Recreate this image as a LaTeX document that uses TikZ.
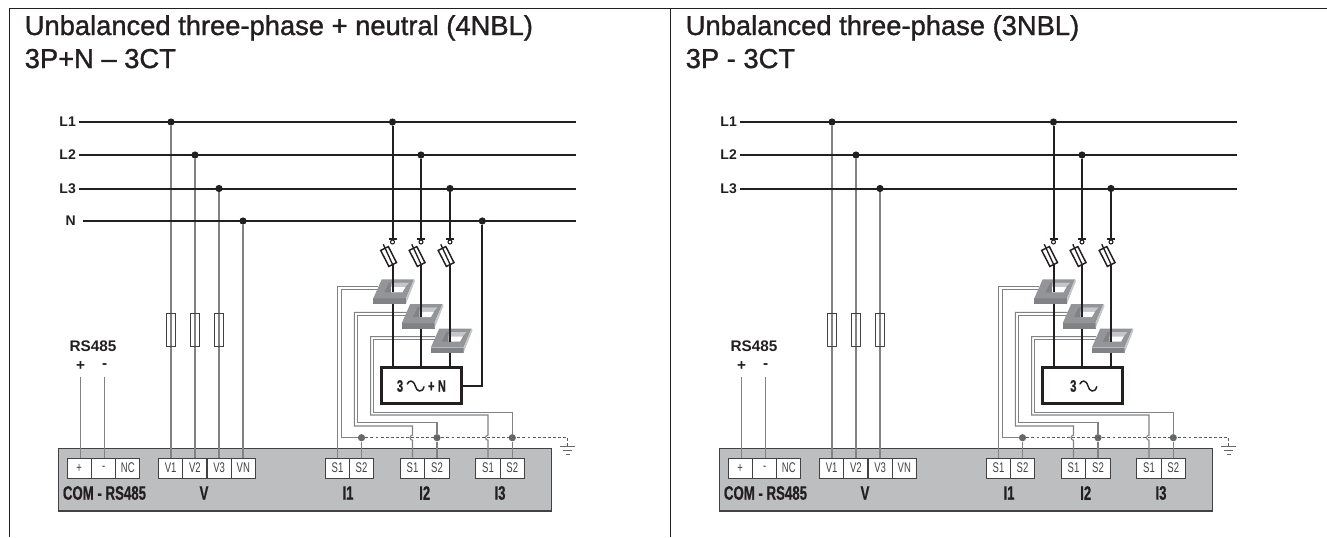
\documentclass[tikz,border=0pt]{standalone}
\usepackage{fontspec}
\setmainfont{Liberation Sans}
\newfontfamily\condfont[FakeStretch=0.68,BoldFeatures={FakeBold=0.5}]{Liberation Sans}
\newfontfamily\titlefont[FakeBold=1.2]{Liberation Sans}
\definecolor{inkblack}{HTML}{231F20}
\definecolor{wiregrey}{HTML}{808285}
\definecolor{metergrey}{HTML}{BCBEC0}
\definecolor{ctfront}{HTML}{808285}
\definecolor{cttop}{HTML}{939598}
\definecolor{ctlight}{HTML}{C4C6C8}
\tikzset{
  x=0.75pt,y=-0.75pt,
  frameline/.style={draw=inkblack,line width=0.7pt},
  paneltitle/.style={anchor=base west,inner sep=0pt,font=\titlefont\fontsize{20.5}{22}\selectfont,text=inkblack},
  buslabel/.style={anchor=east,inner xsep=2.2pt,inner ysep=0pt,font=\bfseries\fontsize{10.5}{12}\selectfont,text=inkblack},
  rslabel/.style={inner sep=0pt,font=\bfseries\fontsize{11.5}{13}\selectfont,text=inkblack},
  bus/.style={draw=inkblack,line width=1.5pt},
  branch/.style={draw=inkblack,line width=1.5pt},
  vwire/.style={draw=wiregrey,line width=1pt},
  ctwire/.style={draw=wiregrey,line width=0.8pt},
  groundwire/.style={draw=wiregrey!70!black,line width=1.1pt,dash pattern=on 2.2pt off 1.6pt},
  busdot/.style={circle,fill=inkblack,inner sep=0pt,minimum size=5.4pt},
  greydot/.style={circle,fill=wiregrey!80!black,inner sep=0pt,minimum size=5.4pt},
  vfuse/.style={draw=inkblack!85,line width=0.75pt,inner sep=0pt,minimum width=7pt,minimum height=24.5pt},
  linefuse/.style={draw=inkblack,fill=white,line width=1.1pt,rotate=27,inner sep=0pt,minimum width=6.4pt,minimum height=13.5pt},
  terminal/.style={draw=inkblack!85,fill=white,line width=0.75pt,inner sep=0pt,minimum width=18.1pt,minimum height=15pt,font=\condfont\fontsize{10.5}{12}\selectfont,text=inkblack!85},
  meterlabel/.style={inner sep=0pt,font=\condfont\bfseries\fontsize{14.6}{16}\selectfont,text=inkblack},
  loadbox/.style={draw=inkblack,fill=white,line width=1.7pt,inner sep=0pt,minimum width=60pt,minimum height=27pt},
  loadlabel/.style={inner sep=0pt,font=\condfont\bfseries\fontsize{12.5}{14}\selectfont,text=inkblack},
  pics/ctcore/.style={code={
    \fill[ctfront] (-19.2,0) -- (-19.2,-5.7) -- (13.5,-5.7) -- (13.5,0) -- cycle;
    \fill[cttop] (-19.2,-5.7) -- (-10.8,-24.7) -- (21.5,-24.7) -- (13.5,-5.7) -- cycle;
    \fill[ctlight] (13.5,0) -- (13.5,-5.7) -- (21.5,-24.7) -- (22.5,-23) -- (14.5,-3) -- cycle;
    \fill[ctfront] (-8,-11.7) -- (-3.5,-21.3) -- (16.5,-21.3) -- (10,-11.7) -- cycle;
    \fill[ctlight] (-1.5,-17) -- (-1,-21.3) -- (16.5,-21.3) -- (13,-17) -- cycle;
    \fill[white] (-1.5,-11.7) -- (-1.5,-17) -- (13,-17) -- (10,-11.7) -- cycle;
  }},
  pics/acsign/.style={code={
    \draw[inkblack,line width=1.1pt,line cap=round] (0,0) .. controls (1.5,-4) and (6,-4.5) .. (8,2) .. controls (9,7.5) and (15,9.5) .. (16.7,2.7);
  }},
}

\begin{document}
\begin{tikzpicture}
  \useasboundingbox (0,0) rectangle (1327,537);
  % frame
  \draw[frameline] (9,537) -- (9,8) -- (1327,8);
  \draw[frameline] (670.5,8) -- (670.5,537);
  \node[paneltitle] (titleLa) at (24.5,35) {Unbalanced three-phase + neutral (4NBL)};
  \node[paneltitle] (titleLb) at (24.5,68) {3P+N – 3CT};
  \node[paneltitle] (titleRa) at (685.5,35) {Unbalanced three-phase (3NBL)};
  \node[paneltitle] (titleRb) at (685.5,68) {3P - 3CT};
  % the two panels share everything but the neutral
  \foreach \px in {0,661} {
  \begin{scope}[shift={(\px,0)},name prefix=p\px-]
    % meter
    \fill[metergrey] (58.3,448.3) rectangle (551.7,511);
    \draw[inkblack!85,line width=0.8pt] (58.3,448.3) rectangle (551.7,511);
    \foreach \t/\x/\txt in {tP/79.2/+,tM/103.6/-,tNC/127.8/NC,V1/170.7/V1,V2/194.9/V2,V3/219.1/V3,VN/243.3/VN,
      SAa/337.5/S1,SAb/361.5/S2,SBa/412.5/S1,SBb/437/S2,SCa/488/S1,SCb/512.3/S2}
      \node[terminal] (\t) at (\x,468) {\txt};
    \node[meterlabel] (mCom) at (104.5,493) {COM - RS485};
    \node[meterlabel] (mV) at (204,493) {V};
    \node[meterlabel] (mIa) at (348,493) {I1};
    \node[meterlabel] (mIb) at (424.7,493) {I2};
    \node[meterlabel] (mIc) at (500,493) {I3};
    % RS485
    \node[rslabel] (rsName) at (93,346.7) {RS485};
    \node[rslabel] (rsP) at (80.5,366) {+};
    \node[rslabel] (rsM) at (104.7,366) {-};
    \coordinate (rsPw) at (80.7,377.3);
    \coordinate (rsMw) at (104.7,377.3);
    \draw[vwire] (rsPw) -- (rsPw |- tP.north);
    \draw[vwire] (rsMw) -- (rsMw |- tM.north);
    % buses and voltage taps
    \foreach \l/\y/\vx/\vt/\bx in {L1/122/171/V1/392.5,L2/155/195/V2/421,L3/188.5/219/V3/450} {
      \node[buslabel] (\l) at (79,\y) {\l};
      \coordinate (\l end) at (576,\y);
      \draw[bus] (\l) -- (\l end);
      \node[busdot] (d\vt) at (\vx,\y) {};
      \draw[vwire] (d\vt) -- (d\vt |- \vt.north);
      \node[vfuse] (f\vt) at (\vx,330.3) {};
      \node[busdot] (b\l) at (\bx,\y) {};
    }
    % current transformer wires
    \coordinate (ctAa) at (378,286.7);
    \coordinate (ctAb) at (378,289.5);
    \coordinate (ctBa) at (406.5,312.3);
    \coordinate (ctBb) at (406.5,315.5);
    \coordinate (ctCa) at (435,336.7);
    \coordinate (ctCb) at (435,339.5);
    \node[greydot] (jA) at (361.5,437.7) {};
    \node[greydot] (jB) at (437,437.7) {};
    \node[greydot] (jC) at (512.3,437.7) {};
    \coordinate (gndTop) at (567.7,437.7);
    \coordinate (gnd) at (567.7,446.7);
    \draw[groundwire] (jA) -- (gndTop) -- (gnd);
    \draw[wiregrey!80!black,line width=0.9pt] (560,446.7) -- (575,446.7);
    \draw[wiregrey!80!black,line width=0.9pt] (563.3,450.7) -- (571.7,450.7);
    \draw[wiregrey!80!black,line width=0.9pt] (565.5,454.3) -- (570,454.3);
    \draw[ctwire] (ctAa) -| (SAa.north);
    \draw[ctwire] (ctAb) -- (341.7,289.5) |- (jA) -- (SAb.north);
    \draw[ctwire] (ctBa) -- (354.3,312.3) |- (412.5,426) -- (412.5,435.2) arc[start angle=-90,end angle=-270,radius=2.5] -- (SBa.north);
    \draw[ctwire] (ctBb) -- (357.3,315.5) |- (437,422.3) -- (jB) -- (SBb.north);
    \draw[ctwire] (ctCa) -- (370.7,336.7) |- (488,415) -- (488,435.2) arc[start angle=-90,end angle=-270,radius=2.5] -- (SCa.north);
    \draw[ctwire] (ctCb) -- (373.3,339.5) |- (512.3,412.5) -- (jC) -- (SCb.north);
    % load
    \node[loadbox] (load) at (421.5,385.5) {};
    % protected branches through the transformers
    \foreach \l/\x/\y in {L1/392.5/304,L2/421/328.7,L3/450/353.3} {
      \pic at (\x,\y) {ctcore};
      \coordinate (sw\l) at (\x,239);
      \coordinate (bt\l) at (\x-9.2,244.3);
      \coordinate (bb\l) at (\x,264.3);
      \coordinate (hole\l) at (\x,\y-11.7);
      \coordinate (ct\l) at (\x,\y);
      \draw[branch] (b\l) -- (sw\l);
      \draw[inkblack,line width=1pt] (\x-4,239) -- (\x+4,239);
      \draw[inkblack,line width=0.8pt] (\x,242) circle[radius=2];
      \node[linefuse] (fuse\l) at (\x-3.9,256.5) {};
      \draw[inkblack,line width=1pt] (bt\l) -- (bb\l);
      \draw[branch] (bb\l) -- (hole\l);
      \draw[branch] (ct\l) -- (ct\l |- load.north);
    }
  \end{scope}
  }
  % left panel: neutral
  \begin{scope}[name prefix=p0-]
    \node[buslabel] (N) at (79,221) {N};
    \coordinate (Nstart) at (82.6,221);
    \coordinate (Nend) at (576,221);
    \draw[bus] (Nstart) -- (Nend);
    \node[busdot] (dVN) at (243,221) {};
    \draw[vwire] (dVN) -- (dVN |- VN.north);
    \node[busdot] (bN) at (482.3,221) {};
    \draw[branch] (load.east) -| (bN);
    \node[loadlabel] (lThree) at (400,386) {3};
    \pic at (407.3,384) {acsign};
    \node[loadlabel] (lN) at (437,386) {+ N};
  \end{scope}
  % right panel: three-phase load only
  \begin{scope}[shift={(661,0)},name prefix=p661-]
    \node[loadlabel] (lThree) at (412.3,386) {3};
    \pic at (419,384) {acsign};
  \end{scope}
\end{tikzpicture}
\end{document}
